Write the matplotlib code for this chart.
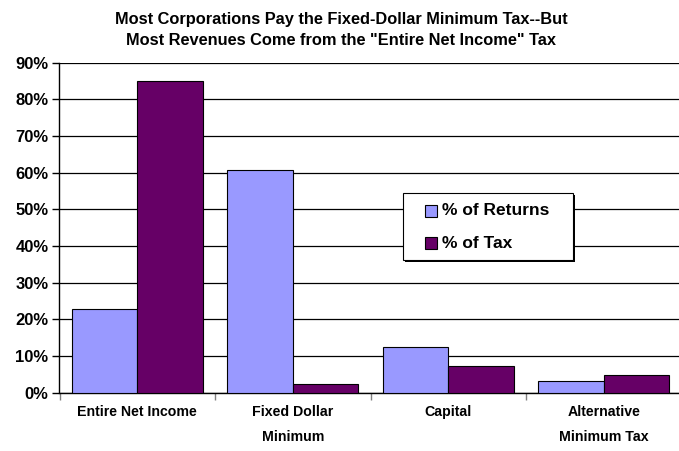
import numpy as np
import matplotlib
matplotlib.use('Agg')
import matplotlib.pyplot as plt
from matplotlib.patches import Rectangle

categories = ['Entire Net Income', 'Fixed Dollar\nMinimum', 'Capital', 'Alternative\nMinimum Tax']
pct_returns = [22.7, 60.7, 12.5, 3.3]
pct_tax = [85.0, 2.3, 7.3, 4.8]
series_names = ['% of Returns', '% of Tax']
colors = ['#9999FF', '#660066']

plt.rcParams['font.family'] = ['Liberation Sans', 'DejaVu Sans']
plt.rcParams['font.weight'] = 'bold'

fig = plt.figure(figsize=(6.79, 4.51), dpi=100)
W, H = 679, 451
ax = fig.add_axes([59.5 / W, (H - 392.7) / H, 622 / W, 330 / H])

x = np.arange(len(categories))
bw = 0.42
ax.bar(x - bw / 2, pct_returns, bw, color=colors[0], edgecolor='black', linewidth=0.8,
       label=series_names[0], zorder=3)
ax.bar(x + bw / 2, pct_tax, bw, color=colors[1], edgecolor='black', linewidth=0.8,
       label=series_names[1], zorder=3)

ax.set_xlim(-0.5, 3.5)
ax.set_ylim(0, 90)
ax.set_yticks(np.arange(0, 91, 10))
ax.set_yticklabels([f'{v}%' for v in range(0, 91, 10)], fontsize=12, fontweight='bold')
ax.yaxis.grid(True, color='black', linewidth=0.9, zorder=0)
ax.tick_params(axis='y', length=5, width=1, direction='out', pad=3)

# category labels between boundary ticks
ax.set_xticks(np.arange(-0.5, 3.6, 1))
ax.set_xticklabels([])
ax.tick_params(axis='x', length=5, width=1, color='#808080', direction='out')
for i, c in enumerate(categories):
    ax.text(i, -3.4, c, ha='center', va='top', fontsize=10.2, fontweight='bold',
            linespacing=2.0, transform=ax.transData, clip_on=False)

for s in ['top', 'right']:
    ax.spines[s].set_visible(False)
ax.spines['left'].set_linewidth(1)
ax.spines['bottom'].set_linewidth(1)

fig.text(341 / W, 1 - 30 / H,
         'Most Corporations Pay the Fixed-Dollar Minimum Tax--But\n'
         'Most Revenues Come from the "Entire Net Income" Tax',
         ha='center', va='center', fontsize=11.8, fontweight='bold', linespacing=1.55)

# legend box with shadow
lx0, ly0, lx1, ly1 = 403 / W, 1 - 260 / H, 573 / W, 1 - 193 / H
fig.patches.append(Rectangle((lx0 + 2 / W, ly0 - 2 / H), lx1 - lx0, ly1 - ly0,
                             transform=fig.transFigure, facecolor='black', edgecolor='none', zorder=4))
fig.patches.append(Rectangle((lx0, ly0), lx1 - lx0, ly1 - ly0, transform=fig.transFigure,
                             facecolor='white', edgecolor='black', linewidth=0.8, zorder=5))
for k, (name, col) in enumerate(zip(series_names, colors)):
    yc = 1 - (211 + 32 * k) / H
    fig.patches.append(Rectangle((425 / W, yc - 6 / H), 12 / W, 12 / H, transform=fig.transFigure,
                                 facecolor=col, edgecolor='black', linewidth=0.8, zorder=6))
    fig.text(442 / W, yc, name, ha='left', va='center', fontsize=12.5, fontweight='bold', zorder=7)

fig.savefig('out.png', dpi=100)
